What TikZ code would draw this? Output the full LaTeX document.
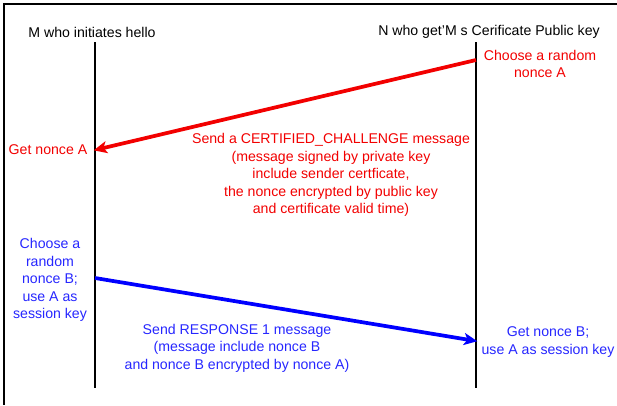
\documentclass[tikz,border=0pt]{standalone}
\usepackage{fontspec}
\setmainfont{Liberation Sans}
\usetikzlibrary{positioning, arrows.meta}
\tikzset{lifeline/.style={draw, line width=2.2pt}}
\tikzset{who/.style={font=\fontsize{10.6}{13.2}\selectfont, inner sep=0pt}}
\tikzset{note/.style args={#1}{who, align=center, text=#1}}
\tikzset{msg/.style args={#1}{draw=#1, line width=2.8pt, -{Stealth[length=10pt, width=9pt, inset=2.5pt]}, shorten >=-1pt}}
\colorlet{redmsg}{red!95!black}
\colorlet{bluemsg}{blue}
\colorlet{bluetxt}{blue!85!white}

\begin{document}
\begin{tikzpicture}[x=0.75pt, y=-0.75pt]
	\useasboundingbox (0,0) rectangle (617,405);
	% frame
	\draw[line width=1pt] (617,4) -- (4,4) -- (4,405);

	% lifelines
	\node[who] (M) at (92,32) {M who initiates hello};
	\node[who] (N) at (489,32) {N who get’M s Cerificate Public key};
	\coordinate (Mtop) at (95,42);
	\coordinate (Mbot) at (95,388);
	\coordinate (Ntop) at (476,42);
	\coordinate (Nbot) at (476,388);
	\draw[lifeline] (Mtop) -- (Mbot);
	\draw[lifeline] (Ntop) -- (Nbot);

	% challenge
	\coordinate (chalN) at (476,60);
	\coordinate (chalM) at (95,150);
	\node[note=redmsg] (chooseA) at (540,64) {Choose a random\\nonce A};
	\node[note=redmsg] (getA) at (48,150) {Get nonce A};
	\draw[msg=redmsg] (chalN) -- (chalM);
	\node[note=redmsg] (chal) at (331,175) {Send a CERTIFIED\_CHALLENGE message\\(message signed by private key\\include sender certficate,\\the nonce encrypted by public key\\and certificate valid time)};

	% response
	\coordinate (respM) at (95,278);
	\coordinate (respN) at (476,341);
	\node[note=bluetxt] (chooseB) at (50,280) {Choose a\\random\\nonce B;\\use A as\\session key};
	\node[note=bluetxt] (getB) at (548,342) {Get nonce B;\\use A as session key};
	\draw[msg=bluemsg] (respM) -- (respN);
	\node[note=bluetxt] (resp) at (237,348) {Send RESPONSE 1 message\\(message include nonce B\\and nonce B encrypted by nonce A)};
\end{tikzpicture}
\end{document}
